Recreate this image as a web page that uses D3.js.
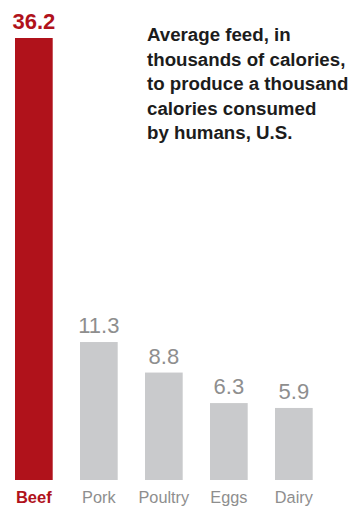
<!DOCTYPE html>
<html><head><meta charset="utf-8">
<script src="https://cdn.jsdelivr.net/npm/d3@7"></script>
<style>html,body{margin:0;padding:0;background:#fff;}svg{display:block;}</style>
</head><body>
<script>
const categories = ["Beef", "Pork", "Poultry", "Eggs", "Dairy"];
const values = [36.2, 11.3, 8.8, 6.3, 5.9];
const valueLabels = ["36.2", "11.3", "8.8", "6.3", "5.9"];
const titleLines = ["Average feed, in", "thousands of calories,", "to produce a thousand", "calories consumed", "by humans, U.S."];

const W = 354, H = 506;
const svg = d3.select("body").append("svg").attr("width", W).attr("height", H);
const font = "'Liberation Sans', Arial, Helvetica, sans-serif";
const red = "#b0121b", grey = "#c9cacc", labelGrey = "#8e8e8e";

const x = d3.scaleBand().domain(categories).range([15, 312.7]).paddingInner(0.42).paddingOuter(0);
const y = d3.scaleLinear().domain([0, 36.2]).range([480, 38]);

const data = categories.map((c, i) => ({c, v: values[i], l: valueLabels[i], hl: i === 0}));

svg.selectAll("rect.bar").data(data).enter().append("rect")
  .attr("class", "bar")
  .attr("x", d => x(d.c))
  .attr("width", x.bandwidth())
  .attr("y", d => y(d.v))
  .attr("height", d => y(0) - y(d.v))
  .attr("fill", d => d.hl ? red : grey);

svg.selectAll("text.val").data(data).enter().append("text")
  .attr("class", "val")
  .attr("x", d => x(d.c) + x.bandwidth() / 2)
  .attr("y", d => y(d.v) - 9)
  .attr("text-anchor", "middle")
  .style("font-family", font)
  .style("font-size", "22px")
  .style("font-weight", d => d.hl ? "bold" : "normal")
  .attr("fill", d => d.hl ? red : labelGrey)
  .text(d => d.l);

svg.selectAll("text.cat").data(data).enter().append("text")
  .attr("class", "cat")
  .attr("x", d => x(d.c) + x.bandwidth() / 2)
  .attr("y", 503)
  .attr("text-anchor", "middle")
  .style("font-family", font)
  .style("font-size", d => d.hl ? "16.5px" : "16.3px")
  .style("font-weight", d => d.hl ? "bold" : "normal")
  .attr("fill", d => d.hl ? red : labelGrey)
  .text(d => d.c);

const t = svg.append("text")
  .style("font-family", font)
  .style("font-size", "18.7px")
  .style("font-weight", "bold")
  .attr("fill", "#1c1c1c");
titleLines.forEach((ln, i) => {
  t.append("tspan").attr("x", 147).attr("y", 41 + i * 24.5).text(ln);
});
</script>
</body></html>
